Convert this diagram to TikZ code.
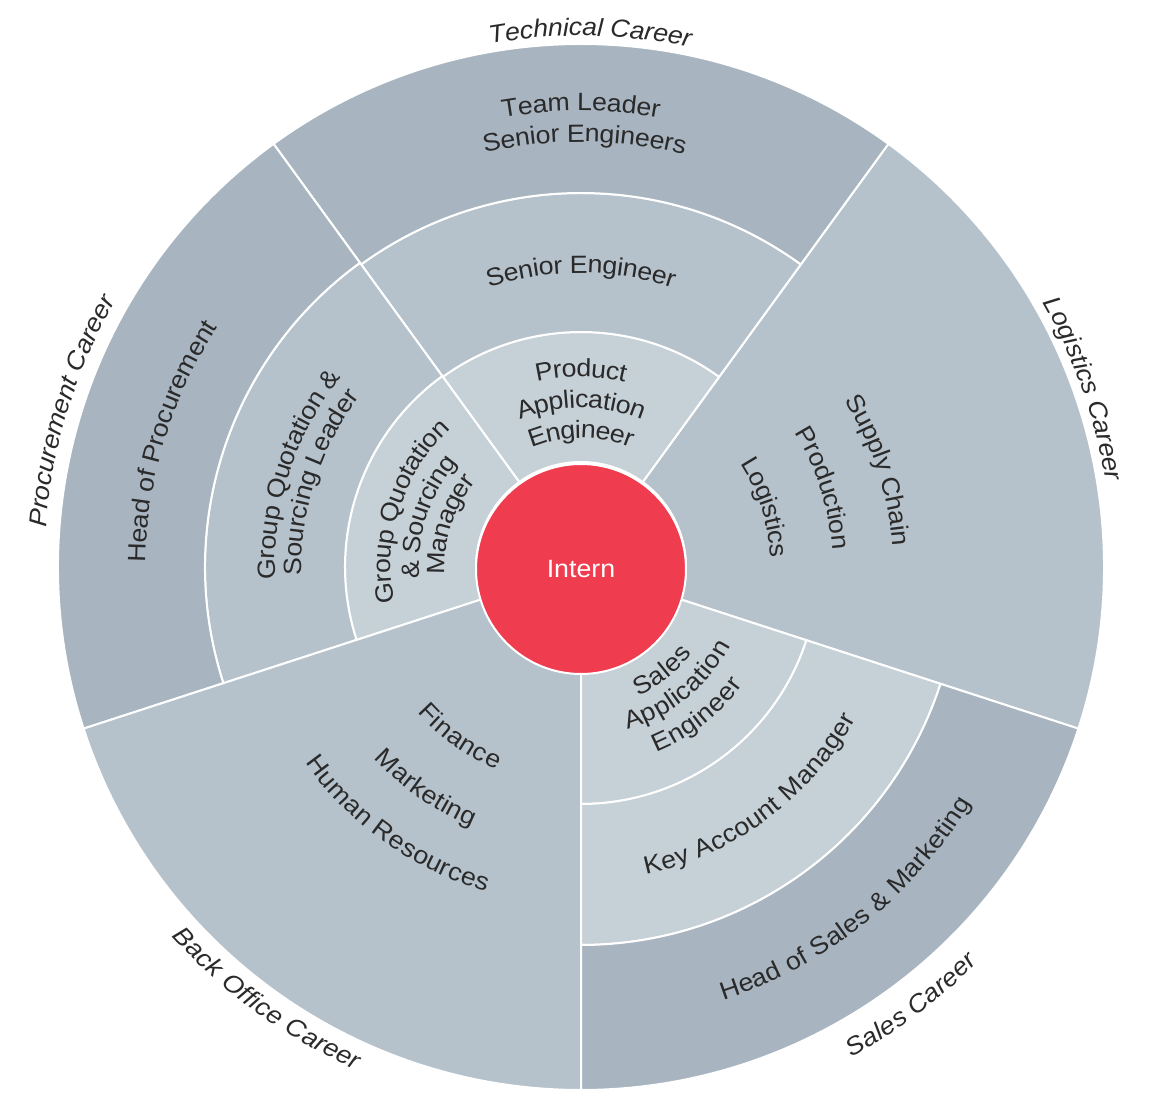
\documentclass[tikz,border=0pt]{standalone}
\usepackage{fontspec}
\setmainfont{Liberation Sans}[FakeStretch=1.07]
\usetikzlibrary{decorations.text}
\definecolor{darkc}{HTML}{A8B5C0}
\definecolor{medc}{HTML}{B6C2CB}
\definecolor{lightc}{HTML}{C6D0D7}
\definecolor{redc}{HTML}{EF3D4F}
\definecolor{txtc}{HTML}{2A2A2A}
\newcommand\txtf{\fontsize{25}{30}\selectfont}
\newcommand\txti{\fontsize{25}{30}\selectfont\itshape}
\tikzset{
  wedgestyle/.style={draw=white, line width=2pt, line join=round},
}
\newcommand\sunwedge[5]{\path[wedgestyle,fill=#5] (#1:#3pt) arc[start angle=#1,end angle=#2,radius=#3pt] -- (#2:#4pt) arc[start angle=#2,end angle=#1,radius=#4pt] -- cycle;}
\newcommand\arctextcw[4]{\path[decorate,decoration={text along path,text align=center,raise=-8pt,text color=txtc,text={|#4|#3}}] (#1+80:#2pt) arc[start angle=#1+80,end angle=#1-80,radius=#2pt];}
\newcommand\arctextccw[4]{\path[decorate,decoration={text along path,text align=center,raise=-8pt,text color=txtc,text={|#4|#3}}] (#1-80:#2pt) arc[start angle=#1-80,end angle=#1+80,radius=#2pt];}
\begin{document}
\begin{tikzpicture}[x=1pt,y=1pt]
\useasboundingbox (-581,-543) rectangle (569,567);
% Logistics
\sunwedge{-18}{54}{105}{523}{medc}
% Technical
\sunwedge{54}{126}{105}{235}{lightc}
\sunwedge{54}{126}{235}{374}{medc}
\sunwedge{54}{126}{374}{523}{darkc}
% Procurement
\sunwedge{126}{198}{105}{236}{lightc}
\sunwedge{126}{198}{236}{376}{medc}
\sunwedge{126}{198}{376}{523}{darkc}
% Back office
\sunwedge{198}{270}{105}{523}{medc}
% Sales
\sunwedge{270}{342}{105}{237}{lightc}
\sunwedge{270}{342}{237}{378}{lightc}
\sunwedge{270}{342}{378}{523}{darkc}
% centre
\node[circle, fill=redc, draw=white, line width=2pt, minimum size=210pt, inner sep=0pt, text=white, font=\txtf] (intern) at (0,-2) {Intern};
% Technical texts
\arctextcw{90}{464}{Team Leader}{\txtf}
\arctextcw{89.5}{433}{Senior Engineers}{\txtf}
\arctextcw{90}{302}{Senior Engineer}{\txtf}
\arctextcw{90}{198}{Product}{\txtf}
\arctextcw{90}{167}{Application}{\txtf}
\arctextcw{90}{137}{Engineer}{\txtf}
\arctextcw{89}{539}{Technical Career}{\txti}
% Logistics texts
\arctextcw{18}{320}{Supply Chain}{\txtf}
\arctextcw{18}{260}{Production}{\txtf}
\arctextcw{18}{198}{Logistics}{\txtf}
\arctextcw{19.5}{540}{Logistics Career}{\txti}
% Procurement texts
\arctextcw{162}{198}{Group Quotation}{\txtf}
\arctextcw{162}{170}{{\&} Sourcing}{\txtf}
\arctextcw{162}{144}{Manager}{\txtf}
\arctextcw{162}{314}{Group Quotation {\&}}{\txtf}
\arctextcw{162}{287}{Sourcing Leader}{\txtf}
\arctextcw{163}{443}{Head of Procurement}{\txtf}
\arctextcw{163}{544}{Procurement Career}{\txti}
% Sales texts
\arctextccw{-52}{133}{Sales}{\txtf}
\arctextccw{-51}{161}{Application}{\txtf}
\arctextccw{-52}{192}{Engineer}{\txtf}
\arctextccw{-53.5}{306}{Key Account Manager}{\txtf}
\arctextccw{-51.5}{448}{Head of Sales {\&} Marketing}{\txtf}
\arctextccw{-53}{552}{Sales Career}{\txti}
% Back office texts
\arctextccw{234.5}{211}{Finance}{\txtf}
\arctextccw{235}{274}{Marketing}{\txtf}
\arctextccw{234.5}{330}{Human Resources}{\txtf}
\arctextccw{234}{543}{Back Office Career}{\txti}
\end{tikzpicture}
\end{document}
